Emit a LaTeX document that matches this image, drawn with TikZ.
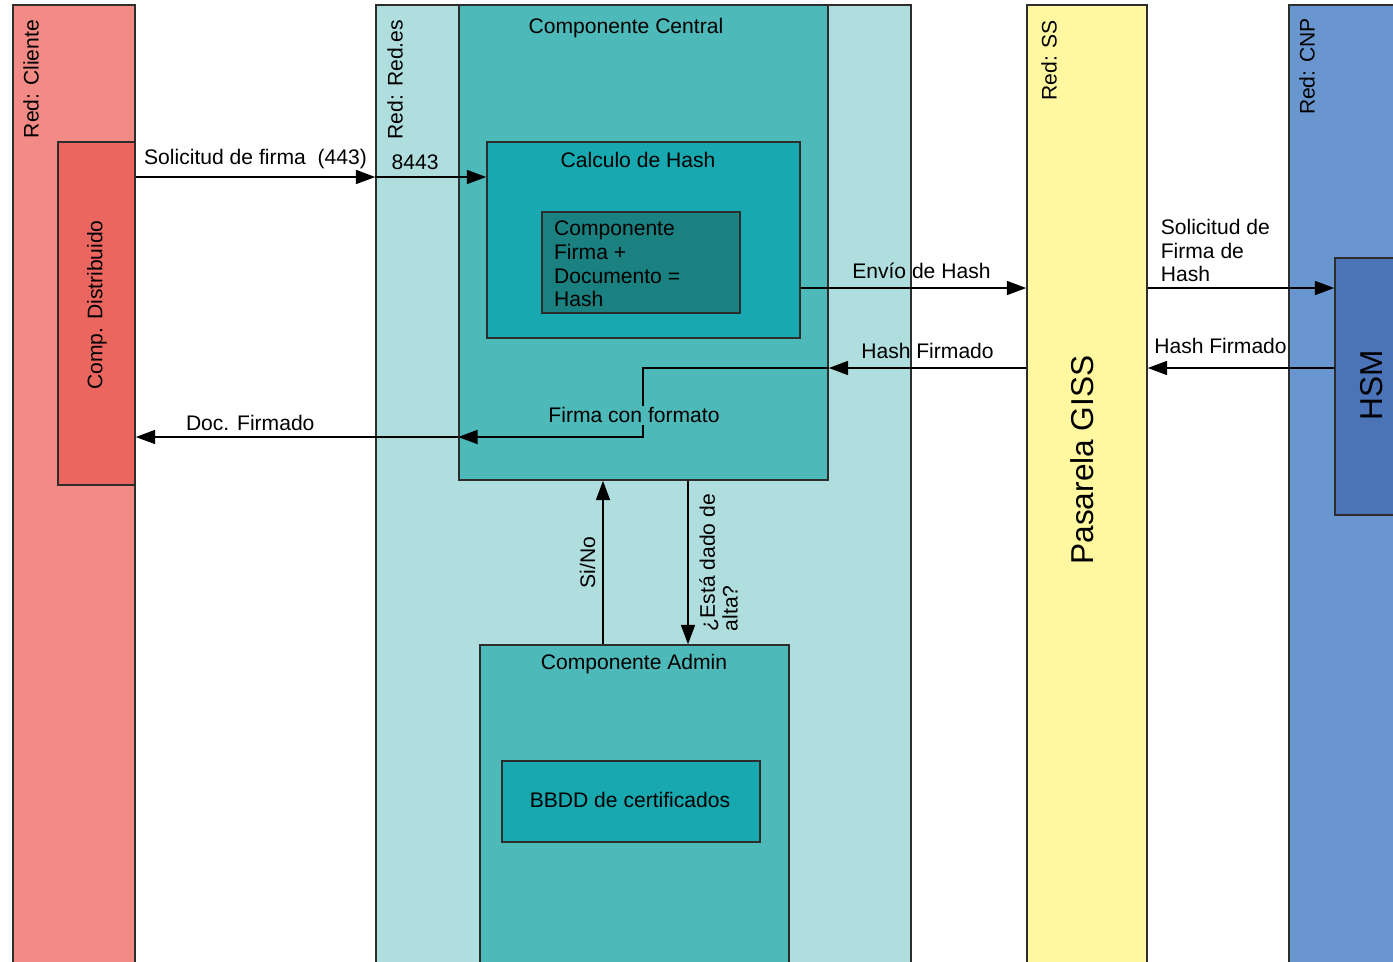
\documentclass[tikz,border=0pt]{standalone}
\usepackage{fontspec}
\setmainfont{Liberation Sans}
\usetikzlibrary{arrows.meta,fit}

\definecolor{cliente}{RGB}{242,139,133}
\definecolor{distrib}{RGB}{236,102,96}
\definecolor{redes}{RGB}{176,222,222}
\definecolor{central}{RGB}{77,185,185}
\definecolor{hash}{RGB}{23,168,176}
\definecolor{firma}{RGB}{26,128,128}
\definecolor{ss}{RGB}{255,248,160}
\definecolor{cnp}{RGB}{106,150,208}
\definecolor{hsm}{RGB}{74,115,184}
\definecolor{borde}{RGB}{45,45,45}

\tikzset{
	box/.style={draw=borde, line width=0.9pt, inner sep=0pt},
	flow/.style={-{Triangle[length=11pt,width=8pt]}, line width=0.8pt},
	lbl/.style={font=\fontsize{12}{13.5}\selectfont, inner sep=1pt},
	big/.style={font=\fontsize{18}{20}\selectfont},
}

\begin{document}
\begin{tikzpicture}[x=0.02cm, y=-0.02cm]
			\useasboundingbox (0,0) rectangle (1393,961);
			% redes
			\node[box, fill=cliente, fit={(13,5) (135,975)}] (cliente) {};
			\node[box, fill=redes, fit={(376,5) (911,975)}] (redes) {};
			\node[box, fill=ss, fit={(1027,5) (1147,975)}] (ss) {};
			\node[box, fill=cnp, fit={(1289,5) (1410,975)}] (cnp) {};
			\node[lbl, rotate=90, anchor=east] (tcliente) at (31,18) {Red: Cliente};
			\node[lbl, rotate=90, anchor=east] (tredes) at (395,18) {Red: Red.es};
			\node[lbl, rotate=90, anchor=east] (tss) at (1049,18) {Red: SS};
			\node[lbl, rotate=90, anchor=east] (tcnp) at (1307,16) {Red: CNP};
			% componentes
			\node[box, fill=distrib, fit={(58,142) (135,485)}] (distrib) {};
			\node[box, fill=central, fit={(459,5) (828,480)}] (central) {};
			\node[box, fill=hash, fit={(487,142) (800,338)}] (calc) {};
			\node[box, fill=firma, fit={(542,212) (740,313)}] (firma) {};
			\node[box, fill=central, fit={(480,645) (789,975)}] (admin) {};
			\node[box, fill=hash, fit={(502,761) (760,842)}] (bbdd) {};
			\node[box, fill=hsm, fit={(1335,258) (1410,515)}] (hsm) {};
			\node[lbl, rotate=90] (tdistrib) at (97,305) {Comp. Distribuido};
			\node[lbl] (tcentral) at (626,28) {Componente Central};
			\node[lbl] (tcalc) at (638,160) {Calculo de Hash};
			\node[lbl, align=left, anchor=north west] (tfirma) at (552,219) {Componente\\Firma +\\Documento =\\Hash};
			\node[lbl] (tadmin) at (634,664) {Componente Admin};
			\node[lbl] (tbbdd) at (630,800) {BBDD de certificados};
			\node[lbl, big, rotate=90] (pasarela) at (1082,460) {Pasarela GISS};
			\node[lbl, big, rotate=90] (thsm) at (1372,385) {HSM};
			% flujos
			\coordinate (yreq) at (0,177);
			\coordinate (yhash) at (0,288);
			\coordinate (yret) at (0,368);
			\coordinate (ydoc) at (0,437);
			\coordinate (xfmt) at (643,0);
			\coordinate (xsino) at (603,0);
			\coordinate (xalta) at (688,0);
			\draw[flow] (distrib.east |- yreq) -- node[lbl, above=3.5pt] (lreq) {Solicitud de firma\ \ (443)} (redes.west |- yreq);
			\draw[flow] (redes.west |- yreq) -- node[lbl, above right=3pt, pos=0, xshift=5pt] (l8443) {8443} (calc.west |- yreq);
			\draw[flow] (calc.east |- yhash) -- node[lbl, above=4pt, pos=0.535] (lenvio) {Envío de Hash} (ss.west |- yhash);
			\draw[flow] (ss.east |- yhash) -- node[lbl, above right=2pt, pos=0, align=left, xshift=4pt] (lsolhsm) {Solicitud de\\Firma de\\Hash} (hsm.west |- yhash);
			\draw[flow] (hsm.west |- yret) -- node[lbl, above=7pt, pos=0.61] (lrethsm) {Hash Firmado} (ss.east |- yret);
			\draw[flow] (ss.west |- yret) -- node[lbl, above=4pt] (lret) {Hash Firmado} (central.east |- yret);
			\draw[flow] (central.east |- yret) -- (xfmt |- yret) -- (xfmt |- ydoc) -- (central.west |- ydoc);
			\node[lbl, fill=central] (lfmt) at (634,415) {Firma con formato};
			\draw[flow] (central.west |- ydoc) -- node[lbl, above=2pt, pos=0.645] (ldoc) {Doc. Firmado} (distrib.east |- ydoc);
			\draw[flow] (xsino |- admin.north) -- node[lbl, rotate=90, anchor=south, inner sep=4pt] (lsino) {Si/No} (xsino |- central.south);
			\draw[flow] (xalta |- central.south) -- node[lbl, rotate=90, anchor=north, align=left, inner sep=6pt, font=\fontsize{12}{13}\selectfont] (lalta) {¿Está dado de\\alta?} (xalta |- admin.north);
		\end{tikzpicture}
\end{document}
